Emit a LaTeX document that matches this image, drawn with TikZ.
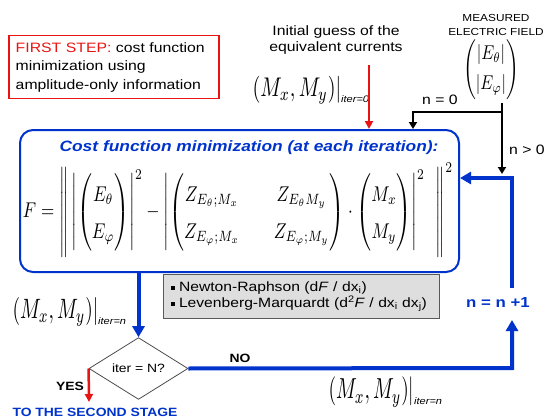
\documentclass[tikz,border=0pt]{standalone}
\usepackage{amsmath}
\usepackage{fontspec}
\setmainfont[FakeStretch=1.16]{Liberation Sans}
\usetikzlibrary{shapes.geometric,arrows.meta}
\definecolor{myblue}{RGB}{0,51,204}
\definecolor{myred}{RGB}{232,20,20}
\definecolor{boxgray}{RGB}{222,222,222}
\newcommand{\mxmy}[3]{\resizebox*{#1}{#2}{$\left.\left(M_x,M_y\right)\right|$}\raisebox{-6pt}{\fontsize{9.5}{10}\selectfont\itshape #3}}
\begin{document}
\begin{tikzpicture}[x=1pt,y=-1pt,
  txt/.style={font=\fontsize{13.6}{16}\selectfont, inner sep=0pt},
  bigtxt/.style={font=\fontsize{13.6}{18.5}\selectfont},
  boldsmall/.style={font=\fontsize{12}{14}\selectfont\bfseries, inner sep=0pt},
  redbox/.style={draw=myred, line width=1.5pt},
  bluebox/.style={draw=myblue, line width=2pt, rounded corners=13pt},
  graybox/.style={draw=gray!70!black, fill=boxgray, line width=1pt},
  decision/.style={diamond, draw=gray!60!black, line width=0.8pt, inner sep=0pt},
  blk/.style={line width=2pt, -{Triangle[width=8pt,length=7pt]}},
  bluearr/.style={draw=myblue, line width=4pt, -{Triangle[width=12pt,length=11pt]}},
  redarr/.style={draw=myred, line width=2.5pt, -{Triangle[width=8pt,length=8pt]}},
  mathlbl/.style={inner sep=0pt}
]
\useasboundingbox (0,0) rectangle (552,420);

% first step box
\node[redbox, bigtxt, text width=196pt, minimum height=63pt, inner xsep=7pt, align=left, anchor=north west] (first) at (8,35)
  {\textcolor{myred}{FIRST STEP:} cost function\\minimization using\\amplitude-only information};

% initial guess
\node[txt, align=center] (init) at (336,40) {Initial guess of the\\equivalent currents};
\node[mathlbl, anchor=west] (m0) at (250,90) {\mxmy{91pt}{28pt}{iter=0}};

% measured field
\node[font=\fontsize{10.2}{14}\selectfont, align=center, inner sep=0pt] (measured) at (496,25) {MEASURED\\ELECTRIC FIELD};
\node[mathlbl] (meas) at (491,70) {\resizebox*{56pt}{60pt}{$\begin{pmatrix}\left|E_\theta\right|\\[3pt]\left|E_\varphi\right|\end{pmatrix}$}};

% main blue box
\node[bluebox, minimum width=439pt, minimum height=142pt] (cf) at (239.5,201) {};
\node[font=\fontsize{15}{18}\selectfont\bfseries\itshape, text=myblue, inner sep=0pt] (title) at (249,148) {Cost function minimization (at each iteration):};
\node[mathlbl] (formula) at (238,210) {\resizebox*{430pt}{94pt}{$\displaystyle \renewcommand{\arraystretch}{1.45}
F=\left\|\rule[-17pt]{0pt}{40pt}\left|\begin{pmatrix}E_\theta\\ E_\varphi\end{pmatrix}\right|^2-\left|\begin{pmatrix}Z_{E_\theta;M_x}&\quad Z_{E_\theta M_y}\\ Z_{E_\varphi;M_x}&\quad Z_{E_\varphi;M_y}\end{pmatrix}\cdot\begin{pmatrix}M_x\\ M_y\end{pmatrix}\right|^2\ \ \right\|^2$}};

% gray methods box
\node[graybox, font=\fontsize{13.5}{16}\selectfont, text width=262pt, minimum height=44pt, inner xsep=7pt, align=left, anchor=north west] (gb) at (163,274)
  {\rule[1.5pt]{4pt}{4pt} Newton-Raphson (d\textit{F} / dx\textsubscript{i})\\
   \rule[1.5pt]{4pt}{4pt} Levenberg-Marquardt (d\textsuperscript{2}\textit{F} / dx\textsubscript{i} dx\textsubscript{j})};

% decision
\node[decision, minimum width=99pt, minimum height=39pt, font=\fontsize{12}{14}\selectfont] (dia) at (138.5,368.5) {iter = N?};

% labels
\node[txt] (nzero) at (440,100) {n = 0};
\node[txt] (ngt) at (527,150) {n > 0};
\node[font=\fontsize{14.5}{17}\selectfont\bfseries, text=myblue, inner sep=0pt] (nn) at (498,303) {n = n +1};
\node[boldsmall] (no) at (240,358) {NO};
\node[boldsmall] (yes) at (70,386) {YES};
\node[boldsmall, text=myblue] (second) at (95,412) {TO THE SECOND STAGE};
\node[mathlbl, anchor=west] (mnl) at (10,312) {\mxmy{88pt}{29pt}{iter=n}};
\node[mathlbl, anchor=west] (mnb) at (326,392) {\mxmy{88pt}{30pt}{iter=n}};

% coordinates
\coordinate (r0) at (369,65);
\coordinate (b0) at (502,103);
\coordinate (b1) at (502,112);
\coordinate (c1) at (512,368);
\coordinate (c2) at (512,320);
\coordinate (c3) at (512,288);
\coordinate (c4) at (512,178);
\coordinate (stage) at (89,402);

% connectors
\draw[redarr] (r0) -- (r0 |- cf.north);
\draw[blk, shorten >=4pt] (b0) -- (b0 |- c4);
\draw[blk] (b1) -| ([xshift=173.5pt]cf.north);
\draw[bluearr] (c3) -- (c4) -- (c4 -| cf.east);
\draw[bluearr] (cf.south -| dia.north) -- (dia.north);
\draw[bluearr] (dia.east) -- (c1) -- (c2);
\draw[redarr] (dia.west) -- (stage);
\end{tikzpicture}
\end{document}
